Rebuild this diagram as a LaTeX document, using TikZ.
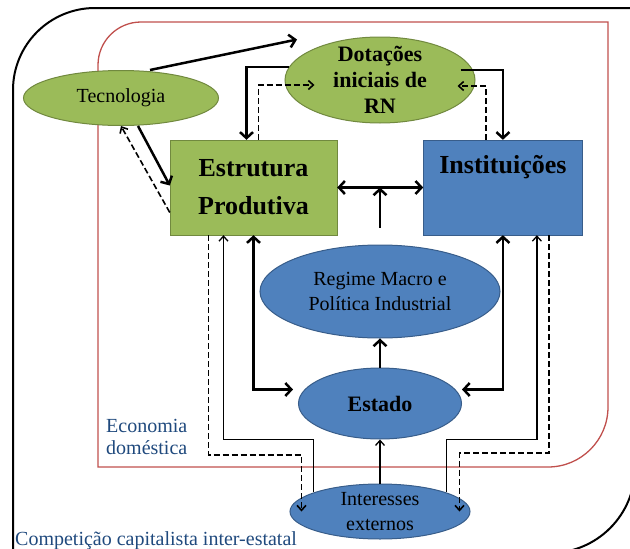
\documentclass[tikz,border=0pt]{standalone}
\usepackage{fontspec}
\setmainfont{Liberation Serif}
\usetikzlibrary{shapes.geometric, arrows.meta, positioning}

\definecolor{greenfill}{HTML}{9BBB59}
\definecolor{greenline}{HTML}{71893F}
\definecolor{bluefill}{HTML}{4F81BD}
\definecolor{blueline}{HTML}{385D8A}
\definecolor{redline}{HTML}{C0504D}
\definecolor{labelblue}{HTML}{1F497D}

\begin{document}
\begin{tikzpicture}[x=1pt, y=-1pt]
% Styles for the shapes and the arrows
\tikzstyle{green_oval} = [ellipse, inner sep=0pt, align=center, draw=greenline, line width=1pt, fill=greenfill]
\tikzstyle{blue_oval} = [ellipse, inner sep=0pt, align=center, draw=blueline, line width=1pt, fill=bluefill]
\tikzstyle{green_box} = [rectangle, minimum width=167pt, minimum height=95pt, text centered, align=center, draw=greenline, fill=greenfill]
\tikzstyle{blue_box} = [rectangle, minimum width=159pt, minimum height=95pt, text centered, draw=blueline, fill=bluefill]
\tikzstyle{arrow} = [line width=2.5pt, ->, >={Straight Barb[length=6pt, width=13pt]}]
\tikzstyle{thin_arrow} = [line width=1.3pt, ->, >={Straight Barb[length=5pt, width=9pt]}]
\tikzstyle{dash_arrow} = [thin_arrow, line width=1.6pt, dash pattern=on 6pt off 3pt]
\tikzstyle{frame_text} = [text=labelblue, font=\fontsize{20}{22}\selectfont, inner sep=0pt]

% Frames: competition (black) and domestic economy (red)
\useasboundingbox (0,0) rectangle (630,549);
\clip (0,0) rectangle (630,549);
\draw [line width=2pt] (13,553) -- (13,90) arc[start angle=180, end angle=90, radius=82pt] -- (635,8) -- (635,468) arc[start angle=0, end angle=-90, radius=85pt] -- cycle;
\draw [line width=1.3pt, redline] (98,467) -- (98,65) arc[start angle=180, end angle=90, radius=43pt] -- (608,22) -- (608,407) arc[start angle=0, end angle=-90, radius=60pt] -- cycle;

% Start initiating nodes
\node (tecnologia) [green_oval, minimum width=195pt, minimum height=55pt, font=\fontsize{20}{24}\selectfont] at (121,98) {Tecnologia};
\node (dotacoes) [green_oval, minimum width=190pt, minimum height=86pt, inner ysep=-8pt, font=\fontsize{22}{26}\selectfont\bfseries] at (380,80) {Dotações\\iniciais de\\RN};
\node (estrutura) [green_box, font=\fontsize{26}{38}\selectfont\bfseries] at (253.5,187.5) {Estrutura\\Produtiva};
\node (instituicoes) [blue_box, right=86pt of estrutura, text height=17pt, text depth=46pt, font=\fontsize{26}{31}\selectfont\bfseries] {Instituições};
\node (regime) [blue_oval, minimum width=240pt, minimum height=93pt, font=\fontsize{20}{25}\selectfont] at (380,291.5) {Regime Macro e\\Política Industrial};
\node (estado) [blue_oval, below=29pt of regime, minimum width=163pt, minimum height=71pt, font=\fontsize{22}{26}\selectfont\bfseries] {Estado};
\node (interesses) [blue_oval, below=44pt of estado, minimum width=180pt, minimum height=55pt, inner ysep=-4pt, font=\fontsize{20}{25}\selectfont] {Interesses\\externos};
\node (economia) [frame_text, anchor=north west, align=left] at (106,419.5) {Economia\\doméstica};
\node (competicao) [frame_text, anchor=base west] at (15,545) {Competição capitalista inter-estatal};

% Draw arrows for connection
\draw [arrow] ([xshift=29pt]tecnologia.north) -- ([xshift=-83pt,yshift=-3pt]dotacoes.north);
\draw [arrow] (dotacoes.172) -| ([xshift=-7pt]estrutura.north);
\draw [dash_arrow] ([xshift=5pt]estrutura.north) |- ([xshift=30pt,yshift=-5pt]dotacoes.west);
\draw [arrow] ([xshift=-15pt,yshift=10pt]dotacoes.east) -| (instituicoes.north);
\draw [dash_arrow] ([xshift=-17pt]instituicoes.north) |- ([xshift=-18pt,yshift=-6pt]dotacoes.east);
\draw [arrow] ([xshift=17pt]tecnologia.south) -- ([yshift=2pt]estrutura.west);
\draw [dash_arrow] ([yshift=-25pt]estrutura.west) -- (tecnologia.south);
\draw [arrow, <->] (estrutura.east) -- (instituicoes.west);
\draw [arrow] ([yshift=17pt]regime.north) -- (regime.north |- estrutura.east);

\draw [arrow, <->] (estrutura.south) |- ([xshift=-5pt,yshift=14pt]estado.west);
\draw [arrow, <->] (instituicoes.south) |- ([yshift=14pt]estado.east);
\draw [arrow] (estado.north) -- (regime.south);
\draw [thin_arrow] (interesses.north) -- (estado.south);
\draw [thin_arrow] (interesses.164) -- (interesses.164 |- estado.south) -| ([xshift=-30pt]estrutura.south);
\draw [thin_arrow] (interesses.16) -- (interesses.16 |- estado.south) -| ([xshift=34pt]instituicoes.south);
\draw [dash_arrow] ([xshift=-45pt]estrutura.south) -- ++(0,220) -| ([xshift=12pt]interesses.west);
\draw [dash_arrow] ([xshift=46pt]instituicoes.south) -- ++(0,218) -| ([xshift=-11pt]interesses.east);
\end{tikzpicture}
\end{document}
